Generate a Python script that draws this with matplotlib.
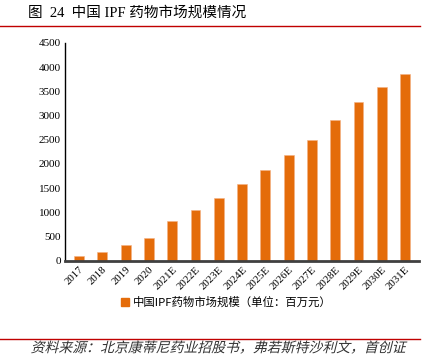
import numpy as np
import matplotlib
matplotlib.use("Agg")
import matplotlib.pyplot as plt
from matplotlib.lines import Line2D
from matplotlib.textpath import TextPath
from matplotlib.patches import PathPatch
from matplotlib.font_manager import FontProperties
from matplotlib.transforms import Affine2D

years = ["2017", "2018", "2019", "2020", "2021E", "2022E", "2023E", "2024E",
         "2025E", "2026E", "2027E", "2028E", "2029E", "2030E", "2031E"]
market = [100, 175, 325, 470, 810, 1050, 1300, 1585,
          1880, 2175, 2500, 2910, 3270, 3595, 3850]
yticks = [0, 500, 1000, 1500, 2000, 2500, 3000, 3500, 4000, 4500]

title = "图  24  中国 IPF 药物市场规模情况"
legend_label = "中国IPF药物市场规模（单位：百万元）"
source = "资料来源：北京康蒂尼药业招股书，弗若斯特沙利文，首创证"

serif = ["Liberation Serif", "Noto Sans CJK SC", "DejaVu Serif"]
sans = ["Noto Sans CJK SC", "DejaVu Sans"]
orange = "#E46C0A"

fig = plt.figure(figsize=(4.37, 3.55), dpi=100)
ax = fig.add_axes([0.149, 0.266, 0.81, 0.613])

x = np.arange(len(years))
ax.bar(x, market, width=0.42, color=orange, edgecolor="#F4B183", linewidth=0.4)

ax.set_xlim(-0.6, len(years) - 0.4)
ax.set_ylim(0, 4500)
ax.set_yticks(yticks)
ax.set_yticklabels([str(v) for v in yticks], family=serif, fontsize=8)
ax.set_xticks(x)
ax.set_xticklabels(years, family=serif, fontsize=7.8, rotation=45,
                   ha="right", va="top", rotation_mode="anchor")
ax.tick_params(axis="both", length=0, pad=3)

for side in ("top", "right"):
    ax.spines[side].set_visible(False)
ax.spines["left"].set_color("black")
ax.spines["left"].set_linewidth(1.0)
ax.spines["bottom"].set_color("#404040")
ax.spines["bottom"].set_linewidth(2.0)

# legend below the axes
handle = Line2D([], [], marker="s", linestyle="none", color=orange, markersize=6)
fig.legend([handle], [legend_label], loc="center", bbox_to_anchor=(0.515, 0.148),
           frameon=False, prop={"family": sans, "size": 8.2},
           handletextpad=0.2, handlelength=1.0)

# title and rules
fig.text(0.064, 0.963, title, family=serif, fontsize=10.5, va="center", ha="left")
fig.add_artist(Line2D([0.0, 0.962], [0.928, 0.928], color="#C00000", linewidth=1.0))
fig.add_artist(Line2D([0.0, 0.962], [0.045, 0.045], color="#C00000", linewidth=1.0))

# italic-looking source line (skewed text path)
tp = TextPath((0, 0), source, size=10.0,
              prop=FontProperties(family="Noto Sans CJK SC", weight="light"))
trans = (Affine2D().scale(1 / 72).skew_deg(14, 0)
         .translate(0.07 * 4.37, 0.008 * 3.55) + fig.dpi_scale_trans)
fig.add_artist(PathPatch(tp, transform=trans, facecolor="#333333",
                         edgecolor="none"))

fig.savefig("out.png", dpi=100)
